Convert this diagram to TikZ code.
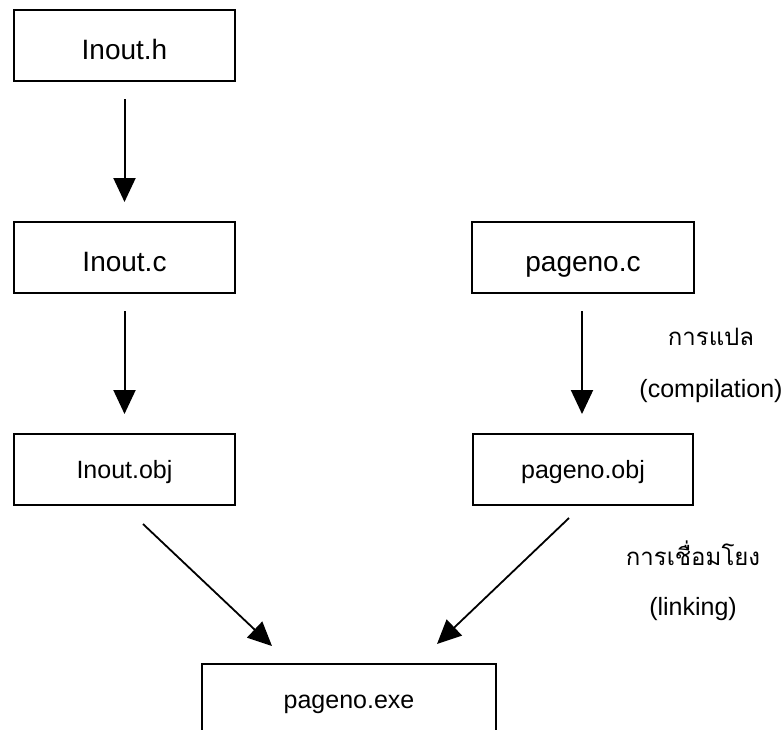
\documentclass[tikz,border=0pt]{standalone}
\usepackage{fontspec}
\setmainfont{Liberation Sans}
\newfontfamily\thaifont[Script=Thai]{Loma}
\usetikzlibrary{arrows.meta}
\begin{document}
\begin{tikzpicture}[x=1pt,y=-1pt,
  box/.style={draw, line width=2pt, minimum width=221pt, minimum height=71pt, inner sep=0pt, text depth=0pt},
  big/.style={box, font=\fontsize{28}{28}\selectfont, text height=28pt},
  small/.style={box, font=\fontsize{25}{25}\selectfont, text height=18pt},
  arr/.style={line width=2pt, -{Triangle[length=24pt,width=22pt]}},
  darr/.style={line width=1.8pt, -{Triangle[length=24pt,width=22pt]}},
  lat/.style={anchor=base, inner sep=0pt, font=\fontsize{25}{25}\selectfont},
  thai/.style={anchor=base, inner sep=0pt, font=\thaifont\fontsize{24}{24}\selectfont}]
\useasboundingbox (0,0) rectangle (783,729);
\node[big] (h) at (124.5,45.5) {Inout.h};
\node[big] (c) at (124.5,257.5) {Inout.c};
\node[big, minimum width=222pt] (pc) at (583,257.5) {pageno.c};
\node[small] (o) at (124.5,469.5) {Inout.obj};
\node[small, minimum width=220pt] (po) at (583,469.5) {pageno.obj};
\node[small, minimum width=294pt] (exe) at (349,699.5) {pageno.exe};
\draw[arr] ([yshift=-17pt]h.south) -- ([yshift=19pt]c.north);
\draw[arr] ([yshift=-17pt]c.south) -- ([yshift=19pt]o.north);
\draw[arr] ([xshift=-1pt,yshift=-17pt]pc.south) -- ([xshift=-1pt,yshift=19pt]po.north);
\draw[darr] ([xshift=18.5pt,yshift=-18pt]o.south) -- ([xshift=-77pt,yshift=17pt]exe.north);
\draw[darr] ([xshift=-14pt,yshift=-12pt]po.south) -- ([xshift=88pt,yshift=19pt]exe.north);
\node[thai] (t1) at (711,345) {การแปล};
\node[lat] (t2) at (711,397) {(compilation)};
\node[thai] (t3) at (693,565) {การเชื่อมโยง};
\node[lat] (t4) at (693,615) {(linking)};
\end{tikzpicture}
\end{document}
